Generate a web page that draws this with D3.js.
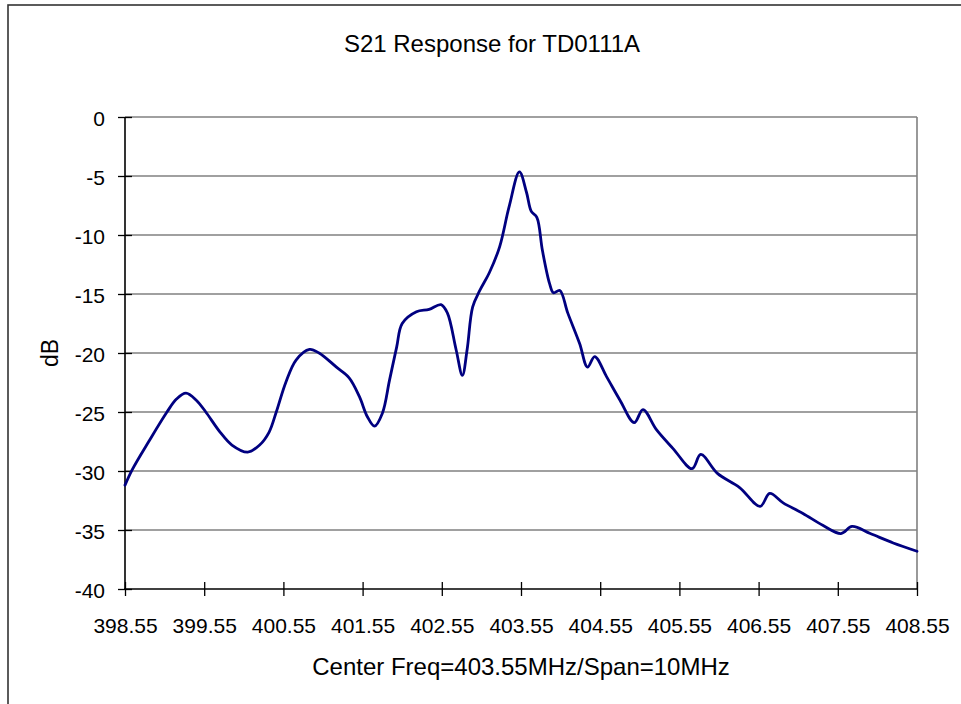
<!DOCTYPE html>
<html>
<head>
<meta charset="utf-8">
<script src="https://cdn.jsdelivr.net/npm/d3@7"></script>
<style>
  html, body { margin: 0; padding: 0; background: #fff; }
  svg { display: block; font-family: "Liberation Sans", Arial, sans-serif; }
</style>
</head>
<body>
<svg id="chart" width="961" height="704"></svg>
<script>
const titleText = "S21 Response for TD0111A";
const xTitle = "Center Freq=403.55MHz/Span=10MHz";
const yTitle = "dB";

const freqs = [398.55, 398.64, 398.85, 399.08, 399.20, 399.32, 399.45, 399.57, 399.75, 399.90,
  400.10, 400.25, 400.37, 400.46, 400.58, 400.71, 400.88, 401.00, 401.22, 401.38,
  401.51, 401.61, 401.70, 401.80, 401.89, 401.98, 402.05, 402.23, 402.39, 402.54,
  402.62, 402.73, 402.81, 402.87, 402.94, 403.03, 403.15, 403.28, 403.40, 403.53,
  403.62, 403.68, 403.75, 403.82, 403.91, 403.96, 404.04, 404.14, 404.29, 404.39,
  404.48, 404.63, 404.80, 404.98, 405.09, 405.26, 405.47, 405.71, 405.82, 406.03,
  406.31, 406.57, 406.69, 406.86, 407.11, 407.36, 407.59, 407.73, 407.96, 408.25, 408.55];
const s21dB = [-31.2, -29.9, -27.5, -25.0, -23.9, -23.4, -24.0, -25.0, -26.7, -27.8,
  -28.4, -27.8, -26.7, -25.0, -22.5, -20.6, -19.7, -20.0, -21.2, -22.1,
  -23.7, -25.4, -26.2, -25.1, -22.3, -19.5, -17.5, -16.5, -16.3, -15.9,
  -16.6, -19.7, -21.9, -19.7, -16.1, -14.7, -13.2, -11.0, -7.6, -4.65,
  -6.4, -8.0, -8.5, -11.3, -14.1, -14.9, -14.7, -16.6, -19.2, -21.2,
  -20.3, -22.0, -24.0, -25.9, -24.8, -26.5, -28.1, -29.8, -28.6, -30.2,
  -31.4, -33.0, -31.9, -32.7, -33.6, -34.6, -35.3, -34.7, -35.3, -36.1, -36.8];

const xTicks = [398.55, 399.55, 400.55, 401.55, 402.55, 403.55, 404.55, 405.55, 406.55, 407.55, 408.55];
const yTicks = [0, -5, -10, -15, -20, -25, -30, -35, -40];

(function () {
const data = freqs.map((f, i) => ({f, v: s21dB[i]}));

const svg = d3.select("#chart");
const pL = 125, pR = 917, pT = 117, pB = 589;

const x = d3.scaleLinear().domain([398.55, 408.55]).range([pL, pR]);
const y = d3.scaleLinear().domain([-40, 0]).range([pB, pT]);

// outer chart border (only top & left visible in the frame)
svg.append("rect")
  .attr("x", 8).attr("y", 5).attr("width", 1000).attr("height", 800)
  .attr("fill", "none").attr("stroke", "#333").attr("stroke-width", 1.6);

// gridlines
svg.append("g").selectAll("line").data(yTicks.filter(d => d !== -40)).join("line")
  .attr("x1", pL).attr("x2", pR)
  .attr("y1", d => y(d)).attr("y2", d => y(d))
  .attr("stroke", "#808080").attr("stroke-width", 1.6);

// right border of plot
svg.append("line")
  .attr("x1", pR).attr("x2", pR).attr("y1", pT).attr("y2", pB)
  .attr("stroke", "#808080").attr("stroke-width", 1.6);

// Y axis
const yAxis = d3.axisLeft(y).tickValues(yTicks).tickSize(0).tickPadding(0).tickFormat(d => String(d));
const gy = svg.append("g").attr("transform", `translate(${pL},0)`).call(yAxis);
gy.select(".domain").remove();
gy.selectAll(".tick text")
  .attr("x", -20).attr("dy", "0.42em")
  .attr("font-size", 21).attr("fill", "#000")
  .attr("font-family", "Liberation Sans, Arial, sans-serif");
gy.selectAll(".tick").append("line")
  .attr("x1", -7).attr("x2", 7).attr("stroke", "#000").attr("stroke-width", 1.3);
svg.append("line").attr("x1", pL).attr("x2", pL).attr("y1", pT).attr("y2", pB + 1)
  .attr("stroke", "#000").attr("stroke-width", 1.6);

// X axis
const xAxis = d3.axisBottom(x).tickValues(xTicks).tickSize(0).tickPadding(0).tickFormat(d => d.toFixed(2));
const gx = svg.append("g").attr("transform", `translate(0,${pB})`).call(xAxis);
gx.select(".domain").remove();
gx.selectAll(".tick text")
  .attr("y", 44).attr("dy", 0)
  .attr("font-size", 21).attr("fill", "#000")
  .attr("font-family", "Liberation Sans, Arial, sans-serif");
gx.selectAll(".tick").append("line")
  .attr("y1", -7).attr("y2", 7).attr("stroke", "#000").attr("stroke-width", 1.3);
svg.append("line").attr("x1", pL - 1).attr("x2", pR).attr("y1", pB).attr("y2", pB)
  .attr("stroke", "#000").attr("stroke-width", 1.6);

// line
const line = d3.line().x(d => x(d.f)).y(d => y(d.v)).curve(d3.curveCatmullRom.alpha(0.5));
svg.append("path").datum(data)
  .attr("d", line)
  .attr("fill", "none").attr("stroke", "#000080").attr("stroke-width", 2.8)
  .attr("stroke-linejoin", "round").attr("stroke-linecap", "round");

// titles
svg.append("text").attr("x", 492).attr("y", 52).attr("text-anchor", "middle")
  .attr("font-size", 24).attr("fill", "#000").text(titleText);
svg.append("text").attr("x", (pL + pR) / 2).attr("y", 675).attr("text-anchor", "middle")
  .attr("font-size", 24).attr("fill", "#000").text(xTitle);
svg.append("text").attr("transform", "translate(58,353) rotate(-90)").attr("text-anchor", "middle")
  .attr("font-size", 23).attr("fill", "#000").text(yTitle);
})();
</script>
</body>
</html>
